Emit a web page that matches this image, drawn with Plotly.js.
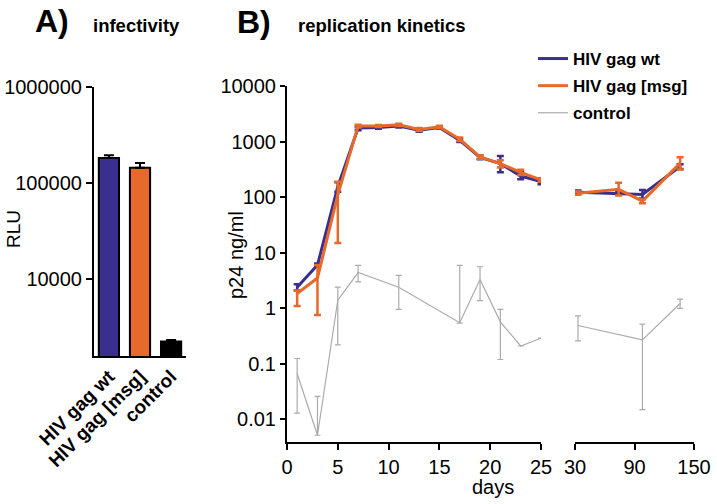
<!DOCTYPE html>
<html>
<head>
<meta charset="utf-8">
<script src="https://cdn.plot.ly/plotly-3.0.1.min.js"></script>
<style>html,body{margin:0;padding:0;background:#fff;}#chart{width:717px;height:504px;}</style>
</head>
<body>
<div id="chart"></div>
<script>
// Panel A: infectivity
const barCategories = ['HIV gag wt', 'HIV gag [msg]', 'control'];
const barRLU = [182000, 144000, 2240];
const barRLUHi = [195000, 162000, 2330];

// Panel B: replication kinetics (p24 ng/ml)
const daysEarly = [1, 3, 5, 7, 9, 11, 13, 15, 17, 19, 21, 23, 25];
const wtEarly   = [2.4, 6.0, 155, 1750, 1800, 1900, 1600, 1800, 1050, 520, 400, 240, 190];
const wtEarlyHi = [2.7, 6.4, 185, 1870, 1890, 2000, 1700, 1880, 1120, 560, 550, 290, 210];
const wtEarlyLo = [2.1, 5.6, 125, 1600, 1700, 1800, 1500, 1720, 980, 480, 280, 210, 170];
const msgEarly   = [1.85, 3.5, 110, 1900, 1900, 2000, 1650, 1850, 1100, 530, 400, 280, 205];
const msgEarlyHi = [2.1, 6.0, 190, 2000, 1980, 2100, 1750, 1920, 1180, 570, 460, 310, 220];
const msgEarlyLo = [1.1, 0.76, 15, 1800, 1820, 1900, 1550, 1780, 1020, 490, 340, 250, 190];

const daysLate = [33, 74, 98, 136];
const wtLate   = [123, 117, 112, 355];
const wtLateHi = [132, 125, 135, 390];
const wtLateLo = [115, 110, 95, 320];
const msgLate   = [118, 138, 85, 410];
const msgLateHi = [126, 182, 92, 520];
const msgLateLo = [110, 107, 78, 315];

const ctrlDaysEarly = [1, 3, 5, 7, 11, 17, 19, 21, 23, 25];
const ctrlEarly   = [0.067, 0.0052, 1.4, 4.4, 2.4, 0.55, 3.3, 0.57, 0.21, 0.29];
const ctrlEarlyHi = [0.125, 0.026, 2.4, 5.9, 3.9, 5.9, 5.6, 0.96, 0.21, null];
const ctrlEarlyLo = [0.013, 0.0052, 0.22, 3.0, 0.96, 0.54, 1.37, 0.12, 0.21, null];
const ctrlDaysLate = [33, 98, 136];
const ctrlLate   = [0.49, 0.27, 1.22];
const ctrlLateHi = [0.73, 0.52, 1.46];
const ctrlLateLo = [0.26, 0.015, 1.0];

const yTickVals = [0.01, 0.1, 1, 10, 100, 1000, 10000];
const yTickText = ['0.01', '0.1', '1', '10', '100', '1000', '10000'];

const BLUE = '#3a2f8e', ORANGE = '#e86a2a', GRAY = '#ababab';
const FONT = 'Liberation Sans, Arial, sans-serif';
const W = 717, H = 504;
const px = v => v / W, py = v => 1 - v / H;

function plus(v, hi) { return v.map((x, i) => hi[i] == null ? 0 : hi[i] - x); }
function minus(v, lo) { return v.map((x, i) => lo[i] == null ? 0 : x - lo[i]); }
function errs(v, hi, lo, color, thick, width) {
  return {type: 'data', symmetric: false, array: plus(v, hi), arrayminus: minus(v, lo),
    color: color, thickness: thick, width: width, visible: true};
}

const traces = [
  {type: 'bar', x: barCategories, y: barRLU, xaxis: 'x', yaxis: 'y', width: 0.65,
   marker: {color: [BLUE, ORANGE, '#000000'], line: {color: '#000', width: 2}},
   error_y: {type: 'data', symmetric: false, array: barRLU.map((v, i) => barRLUHi[i] - v),
     arrayminus: barRLU.map(() => 0), color: '#000', thickness: 2, width: 5},
   showlegend: false, hoverinfo: 'skip'},
  {type: 'scatter', mode: 'lines', name: 'HIV gag wt', legendgroup: 'a', x: daysEarly, y: wtEarly,
   xaxis: 'x2', yaxis: 'y2', line: {color: BLUE, width: 3},
   error_y: errs(wtEarly, wtEarlyHi, wtEarlyLo, BLUE, 2.5, 3.5), cliponaxis: false},
  {type: 'scatter', mode: 'lines', name: 'HIV gag [msg]', legendgroup: 'b', x: daysEarly, y: msgEarly,
   xaxis: 'x2', yaxis: 'y2', line: {color: ORANGE, width: 3},
   error_y: errs(msgEarly, msgEarlyHi, msgEarlyLo, ORANGE, 2.5, 3.5), cliponaxis: false},
  {type: 'scatter', mode: 'lines', name: 'control', legendgroup: 'c', x: ctrlDaysEarly, y: ctrlEarly,
   xaxis: 'x2', yaxis: 'y2', line: {color: GRAY, width: 1.2},
   error_y: errs(ctrlEarly, ctrlEarlyHi, ctrlEarlyLo, GRAY, 1.2, 3), cliponaxis: false},
  {type: 'scatter', mode: 'lines', name: 'HIV gag wt', legendgroup: 'a', showlegend: false, x: daysLate, y: wtLate,
   xaxis: 'x3', yaxis: 'y2', line: {color: BLUE, width: 3},
   error_y: errs(wtLate, wtLateHi, wtLateLo, BLUE, 2.5, 3.5), cliponaxis: false},
  {type: 'scatter', mode: 'lines', name: 'HIV gag [msg]', legendgroup: 'b', showlegend: false, x: daysLate, y: msgLate,
   xaxis: 'x3', yaxis: 'y2', line: {color: ORANGE, width: 3},
   error_y: errs(msgLate, msgLateHi, msgLateLo, ORANGE, 2.5, 3.5), cliponaxis: false},
  {type: 'scatter', mode: 'lines', name: 'control', legendgroup: 'c', showlegend: false, x: ctrlDaysLate, y: ctrlLate,
   xaxis: 'x3', yaxis: 'y2', line: {color: GRAY, width: 1.2},
   error_y: errs(ctrlLate, ctrlLateHi, ctrlLateLo, GRAY, 1.2, 3), cliponaxis: false}
];

const axisCommon = {showline: true, linecolor: '#000', linewidth: 2, showgrid: false, zeroline: false,
  ticks: 'outside', ticklen: 6, tickwidth: 2, tickcolor: '#000',
  tickfont: {family: FONT, size: 20, color: '#000'}};

function ann(text, x, y, opts) {
  return Object.assign({text: text, xref: 'paper', yref: 'paper', x: px(x), y: py(y), showarrow: false,
    xanchor: 'left', yanchor: 'middle', font: {family: FONT, size: 18, color: '#000'}}, opts || {});
}

const layout = {
  width: W, height: H, margin: {l: 0, r: 0, t: 0, b: 0},
  paper_bgcolor: '#fff', plot_bgcolor: 'rgba(0,0,0,0)',
  font: {family: FONT, color: '#000'},
  xaxis: Object.assign({}, axisCommon, {domain: [px(94), px(186)], anchor: 'y', type: 'category',
    range: [-0.48, 2.48], ticks: '', tickangle: -45,
    tickfont: {family: FONT, size: 19, color: '#000', weight: 'bold'}}),
  yaxis: Object.assign({}, axisCommon, {domain: [py(356), py(87)], anchor: 'x', type: 'log',
    range: [3.2, 6], tickvals: [10000, 100000, 1000000], ticktext: ['10000', '100000', '1000000']}),
  xaxis2: Object.assign({}, axisCommon, {domain: [px(287), px(541)], anchor: 'y2', range: [0, 25],
    tickvals: [0, 5, 10, 15, 20, 25]}),
  xaxis3: Object.assign({}, axisCommon, {domain: [px(575), px(694)], anchor: 'y2', range: [30, 150],
    tickvals: [30, 90, 150]}),
  yaxis2: Object.assign({}, axisCommon, {domain: [py(441.7), py(86)], anchor: 'x2', type: 'log',
    range: [-2.4, 4], tickvals: yTickVals, ticktext: yTickText, ticklen: 5}),
  showlegend: true,
  legend: {x: px(533), y: py(41), xanchor: 'left', yanchor: 'top', bgcolor: 'rgba(0,0,0,0)',
    traceorder: 'grouped', tracegroupgap: 2,
    font: {family: FONT, size: 17, color: '#000', weight: 'bold'}},
  annotations: [
    ann('A)', 33, 21, {font: {family: FONT, size: 32, color: '#000', weight: 'bold'}}),
    ann('infectivity', 91, 25, {font: {family: FONT, size: 18.5, color: '#000', weight: 'bold'}}),
    ann('B)', 235, 22, {font: {family: FONT, size: 32, color: '#000', weight: 'bold'}}),
    ann('replication kinetics', 296, 25, {font: {family: FONT, size: 18.5, color: '#000', weight: 'bold'}}),
    ann('RLU', 14, 229, {xanchor: 'center', textangle: -90, font: {family: FONT, size: 19, color: '#000'}}),
    ann('p24 ng/ml', 236, 255, {xanchor: 'center', textangle: -90, font: {family: FONT, size: 20, color: '#000'}}),
    ann('days', 493, 487, {xanchor: 'center', font: {family: FONT, size: 20, color: '#000'}})
  ]
};

Plotly.newPlot('chart', traces, layout, {displayModeBar: false, staticPlot: true});
</script>
</body>
</html>
